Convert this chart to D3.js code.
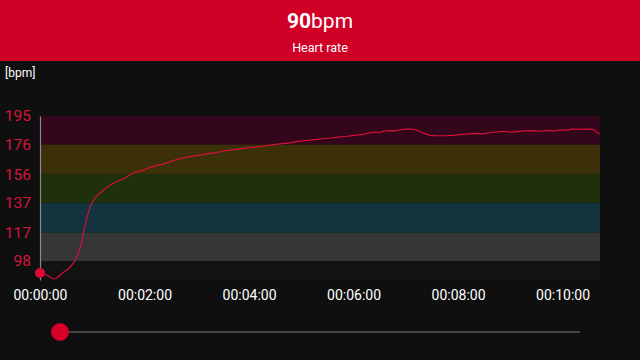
<!DOCTYPE html>
<html><head><meta charset="utf-8">
<script src="https://cdn.jsdelivr.net/npm/d3@7"></script>
<style>
html,body{margin:0;padding:0;background:#0f0f0f;}
svg{display:block;font-family:Roboto,"Noto Sans",sans-serif;}
</style></head>
<body>
<svg id="c" width="640" height="360"></svg>
<script>
const currentBpm = 90;
const title = "Heart rate";
const unitLabel = "[bpm]";
const zoneTicks = [98, 117, 137, 156, 176, 195];
const zoneColors = ["#363636", "#13333e", "#1e300c", "#3c3008", "#34061c"];
const timeTicks = [0, 120, 240, 360, 480, 600];
const seconds = [0,4,8,12,16,19,23,27,32,36,40,43,46,49,52,55,58,62,65,70,75,80,86,92,98,103,110,117,126,134,140,146,152,161,168,176,185,195,203,210,220,230,240,249,258,268,278,287,296,306,316,325,334,344,352,362,370,379,385,390,394,400,408,414,421,427,433,440,448,456,465,474,483,491,500,509,516,524,532,540,548,556,566,574,582,590,597,604,610,618,626,632,636,640,643];
const bpm = [90,89.5,88.5,87,86,86.5,88.5,90.5,92.5,95,98,101.5,106.5,114,122.5,129.5,135,139,141.5,144,146.5,148.5,150.5,152,153.5,155.5,157.5,158.5,160.5,162,162.5,163.8,165,166.5,167.5,168.2,169,170,170.5,171.6,172.3,173,173.8,174.3,175,175.8,176.5,177,178,178.6,179.2,179.8,180.3,181,181.3,182.2,182.5,183.8,184.3,183.9,184.8,185.2,185.1,185.8,186.2,186.3,185.5,183.5,182,181.8,181.8,182,182.5,183,183.4,183.1,183.8,184.3,184.8,184.2,184.6,185,185.2,184.8,185.4,184.9,185.8,185.4,186.2,186.3,186.1,186.4,185.8,183.8,183];

const svg = d3.select("#c");
const W = 640, H = 360;
const x = d3.scaleLinear().domain([0, 643]).range([40, 600]);
const y = d3.scaleLinear().domain([85.3, 195]).range([280, 116]);

// header
svg.append("rect").attr("x",0).attr("y",0).attr("width",W).attr("height",61).attr("fill","#d00027");
const t1 = svg.append("text").attr("x",320).attr("y",28).attr("text-anchor","middle").attr("fill","#fff").attr("font-size",21);
t1.append("tspan").attr("font-weight","bold").text(currentBpm);
t1.append("tspan").text("bpm");
svg.append("text").attr("x",320).attr("y",52).attr("text-anchor","middle").attr("fill","#fff").attr("font-size",12.5).text(title);

svg.append("text").attr("x",5).attr("y",77).attr("fill","#fff").attr("font-size",12).text(unitLabel);

// plot area background
svg.append("rect").attr("x",40).attr("y",116).attr("width",560).attr("height",164).attr("fill","#121212");

// zones
for (let i = 0; i < zoneColors.length; i++) {
  svg.append("rect").attr("x", x(0)).attr("width", x(643) - x(0))
    .attr("y", y(zoneTicks[i+1])).attr("height", y(zoneTicks[i]) - y(zoneTicks[i+1]))
    .attr("fill", zoneColors[i]);
}

// y axis
const yAxis = d3.axisLeft(y).tickValues(zoneTicks).tickSize(0).tickPadding(9);
const gy = svg.append("g").attr("transform","translate(40,0)").call(yAxis);
gy.select(".domain").attr("stroke","#8a8a8a").attr("stroke-width",1.2);
gy.selectAll("text").attr("fill","#d8143c").attr("font-size",15.5).attr("font-family","Roboto,sans-serif");

// x axis
const fmt = s => { const m = Math.floor(s/60), ss = s%60; return "00:" + String(m).padStart(2,"0") + ":" + String(ss).padStart(2,"0"); };
const xAxis = d3.axisBottom(x).tickValues(timeTicks).tickFormat(fmt).tickSize(0).tickPadding(10);
const gx = svg.append("g").attr("transform","translate(0,280)").call(xAxis);
gx.select(".domain").remove();
gx.selectAll("text").attr("fill","#fff").attr("font-size",14).attr("font-family","Roboto,sans-serif");

// line
const data = seconds.map((s,i)=>({s, v: bpm[i]}));
svg.append("path").datum(data)
  .attr("d", d3.line().x(d=>x(d.s)).y(d=>y(d.v)))
  .attr("fill","none").attr("stroke","#d5103a").attr("stroke-width",1.2);

svg.append("circle").attr("cx", x(data[0].s)).attr("cy", y(data[0].v)).attr("r",5).attr("fill","#dc0a32");

// slider
svg.append("line").attr("x1",60).attr("x2",580).attr("y1",332).attr("y2",332).attr("stroke","#444").attr("stroke-width",2);
svg.append("circle").attr("cx",60).attr("cy",332).attr("r",9).attr("fill","#d4002a");
</script>
</body></html>
